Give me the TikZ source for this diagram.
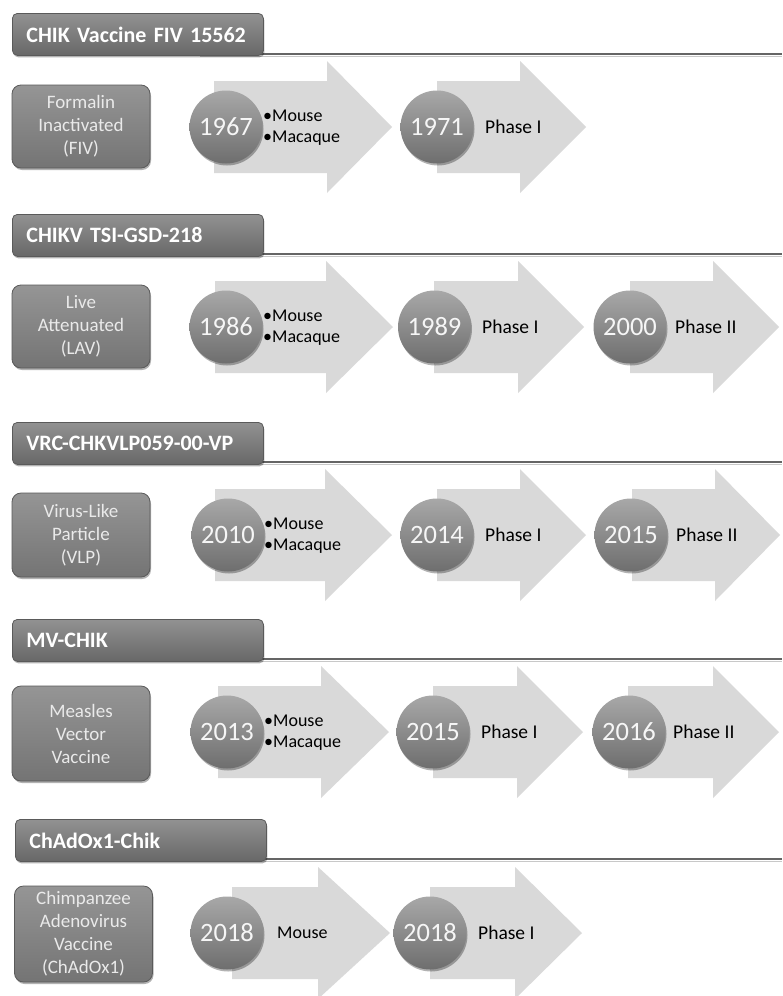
\documentclass[tikz,border=0pt]{standalone}
\usepackage{fontspec}
\setmainfont{Carlito}
\usetikzlibrary{shadows}
\definecolor{arrowgray}{HTML}{D9D9D9}
\definecolor{hdrtop}{HTML}{929292}
\definecolor{hdrbot}{HTML}{686868}
\definecolor{boxedge}{HTML}{5A5A5A}
\definecolor{typetop}{HTML}{959595}
\definecolor{typebot}{HTML}{747474}
\definecolor{balltop}{HTML}{A8A8A8}
\definecolor{ballbot}{HTML}{6E6E6E}
\definecolor{typetext}{HTML}{EAEAEA}
\definecolor{yeartext}{HTML}{F6F6F6}
\definecolor{linegray}{HTML}{656565}
\definecolor{lineshade}{HTML}{C8C8C8}
\newcommand\vacarrow[4]{% #1 centre y, #2 body left, #3 head base, #4 tip
  \fill[chev] (#2,#1-46) -- (#3,#1-46) -- (#3,#1-66) -- (#4,#1) -- (#3,#1+66)
    -- (#3,#1+46) -- (#2,#1+46) -- cycle;}
\tikzset{
  softshadow/.style={drop shadow={shadow xshift=1pt,shadow yshift=-2pt,opacity=0.3,fill=black}},
  hdrbox/.style={rectangle, rounded corners=5pt, draw=boxedge, line width=0.8pt,
    top color=hdrtop, bottom color=hdrbot, text=white,
    font=\fontsize{22}{25}\selectfont\bfseries, anchor=north west,
    minimum height=42pt, text width=223pt, inner xsep=14pt, inner ysep=0pt,
    align=left, softshadow},
  typebox/.style={rectangle, rounded corners=9pt, draw=boxedge, line width=0.8pt,
    top color=typetop, bottom color=typebot, text=typetext,
    font=\fontsize{19}{23}\selectfont, align=center, minimum width=138pt,
    inner sep=0pt, softshadow},
  yearball/.style={circle, minimum size=73pt, inner sep=0pt,
    top color=balltop, bottom color=ballbot, text=yeartext,
    font=\fontsize{26.5}{26.5}\selectfont, softshadow},
  stagetext/.style={anchor=west, font=\fontsize{18}{21.5}\selectfont,
    align=left, inner sep=0pt, text=black},
  phasetext/.style={stagetext, font=\fontsize{19.5}{22}\selectfont},
  chev/.style={fill=arrowgray, draw=none},
  hline/.style={line width=2.6pt, draw=linegray},
  hshade/.style={line width=1.6pt, draw=lineshade},
}
\begin{document}
\begin{tikzpicture}[x=1pt,y=-1pt]
\useasboundingbox[fill=white] (0,0) rectangle (782,996);

% ---------------- Row 1 ----------------
\coordinate (s1) at (200,54);
\coordinate (e1) at (782,54);
\draw[hshade] ([yshift=-2.5pt]s1) -- ([yshift=-2.5pt]e1);
\draw[hline] (s1) -- (e1);
\node[hdrbox] (h1) at (12,13) {CHIK Vaccine FIV 15562};
\node[typebox, minimum height=83pt] (t1) at (81,126.5) {Formalin\\Inactivated\\(FIV)};
\vacarrow{127}{214}{327}{392}
\vacarrow{127}{437}{520}{586}
\node[yearball] (y11) at (226,127) {1967};
\node[stagetext] (p11) at (263,127.5) {•Mouse\\•Macaque};
\node[yearball] (y12) at (437,127) {1971};
\node[phasetext] (p12) at (485,127) {Phase I};

% ---------------- Row 2 ----------------
\coordinate (s2) at (200,254);
\coordinate (e2) at (782,254);
\draw[hshade] ([yshift=-2.5pt]s2) -- ([yshift=-2.5pt]e2);
\draw[hline] (s2) -- (e2);
\node[hdrbox] (h2) at (12,214) {CHIKV TSI-GSD-218};
\node[typebox, minimum height=83pt] (t2) at (81,326.5) {Live\\Attenuated\\(LAV)};
\vacarrow{327}{215}{326}{393}
\vacarrow{327}{434}{518}{584}
\vacarrow{327}{630}{713}{779}
\node[yearball] (y21) at (226,327) {1986};
\node[stagetext] (p21) at (263,327.5) {•Mouse\\•Macaque};
\node[yearball] (y22) at (434.5,327) {1989};
\node[phasetext] (p22) at (482,327) {Phase I};
\node[yearball] (y23) at (630,327) {2000};
\node[phasetext] (p23) at (675,327) {Phase II};

% ---------------- Row 3 ----------------
\coordinate (s3) at (200,462);
\coordinate (e3) at (782,462);
\draw[hshade] ([yshift=-2.5pt]s3) -- ([yshift=-2.5pt]e3);
\draw[hline] (s3) -- (e3);
\node[hdrbox] (h3) at (12,422) {VRC-CHKVLP059-00-VP};
\node[typebox, minimum height=84pt] (t3) at (81,535) {Virus-Like\\Particle\\(VLP)};
\vacarrow{535}{215}{325}{392}
\vacarrow{535}{437}{520}{586}
\vacarrow{535}{632}{715}{780}
\node[yearball] (y31) at (228,535) {2010};
\node[stagetext] (p31) at (264,535.5) {•Mouse\\•Macaque};
\node[yearball] (y32) at (437,535) {2014};
\node[phasetext] (p32) at (485,535) {Phase I};
\node[yearball] (y33) at (631,535) {2015};
\node[phasetext] (p33) at (676,535) {Phase II};

% ---------------- Row 4 ----------------
\coordinate (s4) at (200,659);
\coordinate (e4) at (782,659);
\draw[hshade] ([yshift=-2.5pt]s4) -- ([yshift=-2.5pt]e4);
\draw[hline] (s4) -- (e4);
\node[hdrbox] (h4) at (12,619) {MV-CHIK};
\node[typebox, minimum height=95pt] (t4) at (81,733.5) {Measles\\Vector\\Vaccine};
\vacarrow{732}{218}{321}{389}
\vacarrow{732}{433}{517}{583}
\vacarrow{732}{628}{713}{779}
\node[yearball] (y41) at (227,732) {2013};
\node[stagetext] (p41) at (264,732.5) {•Mouse\\•Macaque};
\node[yearball] (y42) at (433,732) {2015};
\node[phasetext] (p42) at (481,732) {Phase I};
\node[yearball] (y43) at (629,732) {2016};
\node[phasetext] (p43) at (673,732) {Phase II};

% ---------------- Row 5 ----------------
\coordinate (s5) at (200,859);
\coordinate (e5) at (782,859);
\draw[hshade] ([yshift=-2.5pt]s5) -- ([yshift=-2.5pt]e5);
\draw[hline] (s5) -- (e5);
\node[hdrbox] (h5) at (15,819) {ChAdOx1-Chik};
\node[typebox, minimum height=96pt] (t5) at (83.5,934) {Chimpanzee\\Adenovirus\\Vaccine\\(ChAdOx1)};
\vacarrow{933}{232}{318}{390}
\vacarrow{933}{430}{515}{582}
\node[yearball] (y51) at (227,933) {2018};
\node[stagetext] (p51) at (277,933) {Mouse};
\node[yearball] (y52) at (430,933) {2018};
\node[phasetext] (p52) at (478,933) {Phase I};
\end{tikzpicture}
\end{document}
